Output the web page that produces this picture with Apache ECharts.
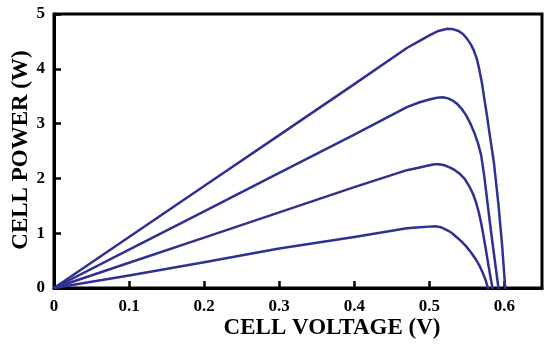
<!DOCTYPE html>
<html><head><meta charset="utf-8">
<script src="https://cdn.jsdelivr.net/npm/echarts@6/dist/echarts.min.js"></script>
<style>html,body{margin:0;padding:0;background:#fff}#c{width:550px;height:352px}</style>
</head><body><div id="c"></div>
<script>
// Data: [cell voltage (V), cell power (W)]
const curve1 = [[0,0],[0.1,0.93],[0.2,1.86],[0.3,2.79],[0.4,3.72],[0.47,4.38],[0.487,4.51],[0.5,4.61],[0.512,4.69],[0.524,4.73],[0.532,4.72],[0.539,4.69],[0.545,4.63],[0.55,4.55],[0.555,4.45],[0.559,4.34],[0.563,4.19],[0.566,4.02],[0.57,3.74],[0.573,3.47],[0.577,3.12],[0.58,2.83],[0.586,2.28],[0.592,1.52],[0.597,0.76],[0.601,0]];
const curve2 = [[0,0],[0.1,0.7],[0.2,1.4],[0.3,2.1],[0.4,2.8],[0.47,3.3],[0.487,3.39],[0.5,3.44],[0.51,3.47],[0.518,3.48],[0.525,3.46],[0.531,3.42],[0.537,3.36],[0.543,3.27],[0.549,3.15],[0.555,2.99],[0.56,2.83],[0.565,2.63],[0.569,2.42],[0.573,2.05],[0.577,1.6],[0.581,1.15],[0.586,0.62],[0.592,0]];
const curve3 = [[0,0],[0.1,0.46],[0.2,0.92],[0.3,1.38],[0.4,1.84],[0.47,2.15],[0.487,2.2],[0.5,2.24],[0.507,2.26],[0.513,2.26],[0.52,2.24],[0.527,2.2],[0.534,2.15],[0.54,2.09],[0.547,1.99],[0.553,1.86],[0.558,1.72],[0.562,1.57],[0.566,1.37],[0.569,1.18],[0.572,0.96],[0.575,0.72],[0.578,0.47],[0.581,0.23],[0.584,0]];
const curve4 = [[0,0],[0.1,0.23],[0.2,0.47],[0.3,0.72],[0.4,0.93],[0.47,1.09],[0.487,1.11],[0.5,1.12],[0.508,1.125],[0.515,1.11],[0.52,1.08],[0.526,1.04],[0.531,0.99],[0.536,0.93],[0.542,0.86],[0.549,0.76],[0.556,0.64],[0.562,0.52],[0.567,0.4],[0.571,0.28],[0.575,0.14],[0.578,0]];
const xTicks = [0, 0.1, 0.2, 0.3, 0.4, 0.5, 0.6];
const yTicks = [0, 1, 2, 3, 4, 5];
const xTitle = 'CELL VOLTAGE (V)';
const yTitle = 'CELL POWER (W)';

const lineColor = '#2e3192';
const font = '"Liberation Serif", "Times New Roman", serif';
const chart = echarts.init(document.getElementById('c'));
const mk = d => ({type:'line', data:d, showSymbol:false, smooth:false, lineStyle:{color:lineColor, width:2.5, join:'round', cap:'round'}, z:3});
chart.setOption({
  animation:false,
  grid:{left:54, right:8, top:14, bottom:64, show:true, borderColor:'#000', borderWidth:3},
  xAxis:{type:'value', min:0, max:0.65, interval:0.1,
    axisLine:{lineStyle:{color:'#000', width:3}},
    axisTick:{inside:true, length:7, lineStyle:{color:'#000', width:2.5}},
    splitLine:{show:false},
    axisLabel:{color:'#000', fontFamily:font, fontWeight:'bold', fontSize:17, margin:10,
      showMaxLabel:false,
      formatter:v => xTicks.some(t => Math.abs(t-v)<1e-6) ? (v===0?'0':v.toFixed(1)) : ''}},
  yAxis:{type:'value', min:0, max:5, interval:1,
    axisLine:{lineStyle:{color:'#000', width:3}},
    axisTick:{inside:true, length:7, lineStyle:{color:'#000', width:2.5}},
    splitLine:{show:false},
    axisLabel:{color:'#000', fontFamily:font, fontWeight:'bold', fontSize:17, margin:9,
      formatter:v => yTicks.includes(v) ? String(v) : ''}},
  graphic:[
    {type:'text', x:332, y:328, style:{text:xTitle, x:0, y:0, textAlign:'center', textVerticalAlign:'middle', fill:'#000', font:'bold 23px ' + font}},
    {type:'text', rotation:Math.PI/2, x:21, y:150, style:{text:yTitle, x:0, y:0, textAlign:'center', textVerticalAlign:'middle', fill:'#000', font:'bold 23px ' + font}}
  ],
  series:[mk(curve1), mk(curve2), mk(curve3), mk(curve4)]
});
</script></body></html>
